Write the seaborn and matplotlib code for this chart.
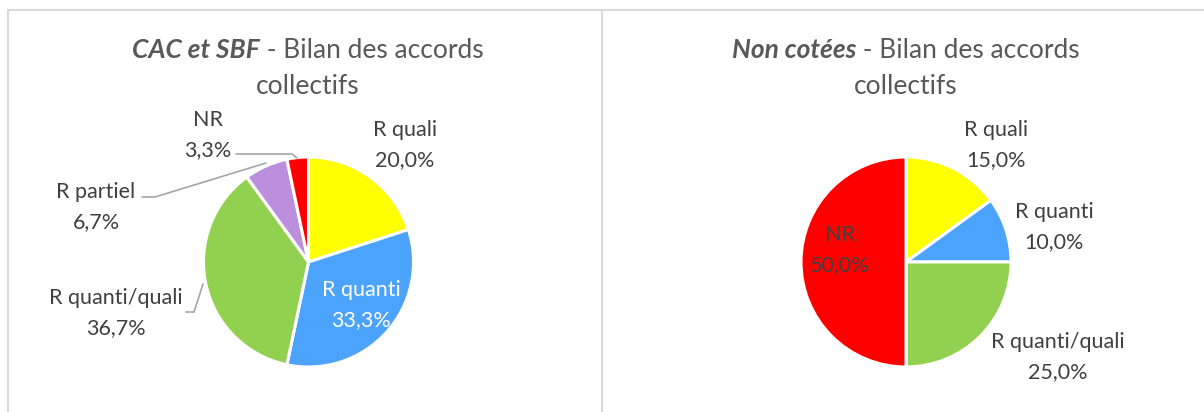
import matplotlib
matplotlib.use("Agg")
import matplotlib.pyplot as plt
import seaborn as sns
from matplotlib.lines import Line2D

# donnees
categories_cac = ["R quali", "R quanti", "R quanti/quali", "R partiel", "NR"]
valeurs_cac = [20.0, 33.3, 36.7, 6.7, 3.3]
categories_nc = ["R quali", "R quanti", "R quanti/quali", "NR"]
valeurs_nc = [15.0, 10.0, 25.0, 50.0]
couleurs = {"R quali": "#FFFF00", "R quanti": "#4BA3FB", "R quanti/quali": "#92D050",
            "R partiel": "#BC8FDD", "NR": "#FF0000"}

sns.set_theme(style="white")
plt.rcParams["font.family"] = ["Lato", "DejaVu Sans"]

W, H = 1204, 412
fig = plt.figure(figsize=(W / 100, H / 100), dpi=100)
fig.patch.set_facecolor("white")

GRIS_TXT = "#404040"
GRIS_TITRE = "#595959"
R = 105.0
TAILLE = 15.5
TAILLE_TITRE = 19


def px(x, y):
    # pixel (haut-gauche) -> coordonnees figure
    return x / W, 1 - y / H


# cadres
bord = "#D9D9D9"
fig.add_artist(Line2D([8 / W, 1], [1 - 10 / H] * 2, color=bord, lw=1.5, transform=fig.transFigure))
fig.add_artist(Line2D([8 / W] * 2, [0, 1 - 10 / H], color=bord, lw=1.5, transform=fig.transFigure))
fig.add_artist(Line2D([602 / W] * 2, [0, 1 - 10 / H], color=bord, lw=1.5, transform=fig.transFigure))


def camembert(x0, x1, cx, cy, cats, vals, labels_pos, couleurs_txt, lignes):
    ax = fig.add_axes([x0 / W, 0, (x1 - x0) / W, 1])
    ax.pie(vals, colors=[couleurs[c] for c in cats], startangle=90, counterclock=False,
           wedgeprops=dict(edgecolor="white", linewidth=2.2))
    # 1 unite = R pixels, centre en (cx, cy)
    ax.set_xlim((x0 - cx) / R, (x1 - cx) / R)
    ax.set_ylim((cy - H) / R, cy / R)
    ax.set_aspect("auto")
    ax.axis("off")

    def d(x, y):
        return (x - cx) / R, (cy - y) / R

    for c, v in zip(cats, vals):
        lx, ly = labels_pos[c]
        col = couleurs_txt.get(c, GRIS_TXT)
        ax.text(*d(lx, ly), c, ha="center", va="center", fontsize=TAILLE, color=col)
        ax.text(*d(lx, ly + 30), f"{v:.1f}%".replace(".", ","), ha="center", va="center",
                fontsize=TAILLE, color=col)
    for pts in lignes:
        xs, ys = zip(*[d(x, y) for x, y in pts])
        ax.plot(xs, ys, color="#A6A6A6", lw=1.2)
    return ax


def titre(cx, gras, reste):
    t1 = fig.text(*px(cx, 50), gras, ha="left", va="center", fontsize=TAILLE_TITRE,
                  fontweight="bold", fontstyle="italic", color=GRIS_TITRE)
    t2 = fig.text(*px(cx, 50), " - " + reste, ha="left", va="center", fontsize=TAILLE_TITRE,
                  color=GRIS_TITRE)
    fig.canvas.draw()
    r = fig.canvas.get_renderer()
    w1 = t1.get_window_extent(r).width
    w2 = t2.get_window_extent(r).width
    start = cx - (w1 + w2) / 2
    t1.set_x(start / W)
    t2.set_x((start + w1) / W)
    fig.text(*px(cx, 86), "collectifs", ha="center", va="center", fontsize=TAILLE_TITRE,
             color=GRIS_TITRE)


pos_cac = {"R quali": (405, 130), "R quanti": (361, 290), "R quanti/quali": (116, 298),
           "R partiel": (96, 192), "NR": (208, 120)}
lignes_cac = [[(236, 154), (292, 154), (297, 158)],
              [(142, 197), (155, 197), (266, 163)],
              [(186, 312), (194, 312), (203, 284)]]
camembert(8, 600, 308.5, 262, categories_cac, valeurs_cac, pos_cac,
          {"R quanti": "white"}, lignes_cac)

pos_nc = {"R quali": (996, 130), "R quanti": (1054, 212), "R quanti/quali": (1058, 342),
          "NR": (840, 235)}
camembert(602, 1204, 906, 262, categories_nc, valeurs_nc, pos_nc, {}, [])

titre(308, "CAC et SBF", "Bilan des accords")
titre(906, "Non cotées", "Bilan des accords")

fig.savefig("out.png", dpi=100, facecolor="white")
